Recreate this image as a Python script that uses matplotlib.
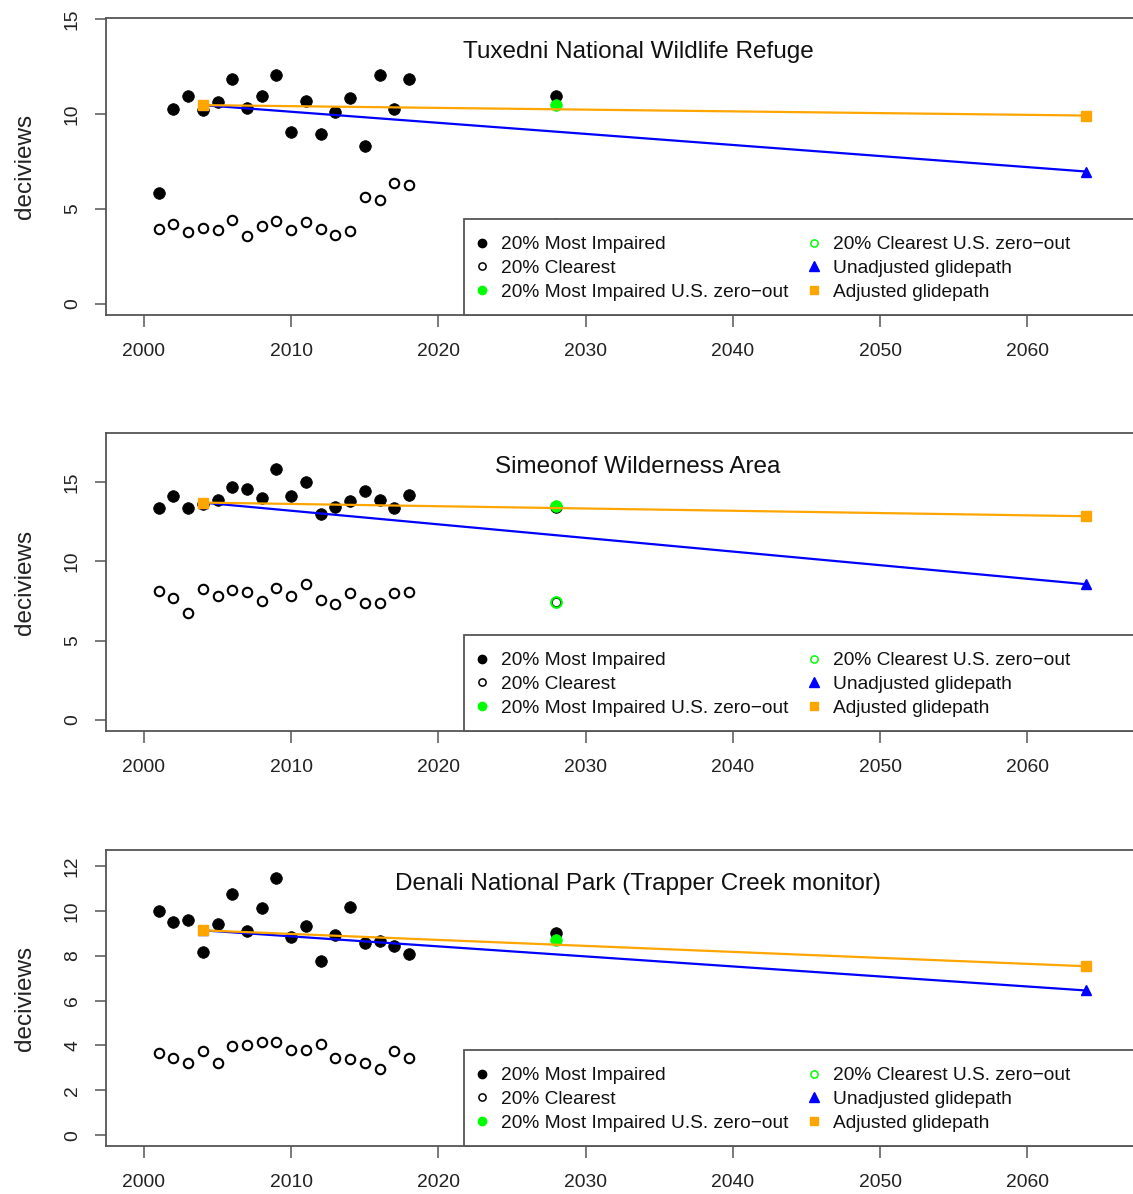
import matplotlib
matplotlib.use("Agg")
import matplotlib.pyplot as plt
from matplotlib.lines import Line2D
from matplotlib.patches import Rectangle

plt.rcParams['font.family'] = ['Liberation Sans', 'DejaVu Sans']

# Data
years = list(range(2001, 2019))
year_2028 = 2028
glide_years = [2004, 2064]

titles = ["Tuxedni National Wildlife Refuge",
          "Simeonof Wilderness Area",
          "Denali National Park (Trapper Creek monitor)"]

tux_impaired = [5.86, 10.28, 10.95, 10.21, 10.63, 11.84, 10.31, 10.95, 12.09,
                9.07, 10.72, 8.95, 10.12, 10.86, 8.35, 12.05, 10.30, 11.84]
tux_clearest = [3.96, 4.23, 3.79, 4.00, 3.89, 4.40, 3.56, 4.09, 4.35,
                3.89, 4.32, 3.95, 3.63, 3.82, 5.63, 5.46, 6.39, 6.25]
tux_2028 = [10.94, 10.51, 4.2, 4.2]      # impaired, impaired zero-out, clearest, clearest zero-out
tux_unadj = [10.48, 6.98]
tux_adj = [10.48, 9.93]

sim_impaired = [13.35, 14.13, 13.37, 13.60, 13.83, 14.65, 14.53, 13.96, 15.83,
                14.13, 15.01, 12.95, 13.41, 13.81, 14.44, 13.83, 13.37, 14.15]
sim_clearest = [8.10, 7.70, 6.74, 8.23, 7.81, 8.21, 8.06, 7.47, 8.29,
                7.81, 8.56, 7.54, 7.30, 7.98, 7.37, 7.35, 7.98, 8.06]
sim_2028 = [13.40, 13.50, 7.40, 7.40]
sim_unadj = [13.69, 8.55]
sim_adj = [13.69, 12.83]

den_impaired = [10.01, 9.49, 9.58, 8.18, 9.42, 10.74, 9.10, 10.13, 11.47,
                8.84, 9.34, 7.77, 8.91, 10.17, 8.58, 8.66, 8.44, 8.09]
den_clearest = [3.67, 3.43, 3.24, 3.74, 3.21, 3.97, 4.04, 4.17, 4.16,
                3.80, 3.79, 4.06, 3.46, 3.40, 3.24, 2.95, 3.74, 3.46]
den_2028 = [8.99, 8.69, 3.4, 3.4]
den_unadj = [9.13, 6.45]
den_adj = [9.13, 7.53]

impaired = [tux_impaired, sim_impaired, den_impaired]
clearest = [tux_clearest, sim_clearest, den_clearest]
future = [tux_2028, sim_2028, den_2028]
unadj = [tux_unadj, sim_unadj, den_unadj]
adj = [tux_adj, sim_adj, den_adj]

yticks = [[0, 5, 10, 15], [0, 5, 10, 15], [0, 2, 4, 6, 8, 10, 12]]
ylims = [(-0.58, 15.07), (-0.69, 18.07), (-0.48, 12.71)]

legend_labels = ["20% Most Impaired", "20% Clearest",
                 "20% Most Impaired U.S. zero\u2212out",
                 "20% Clearest U.S. zero\u2212out",
                 "Unadjusted glidepath", "Adjusted glidepath"]

# layout (pixels of a 1133x1194 figure)
W, H = 1133, 1194
box_left, box_right = 106, 1170
panels_px = [(18, 315), (433, 731), (850, 1146)]

fig = plt.figure(figsize=(W / 100, H / 100), dpi=100)
grey = "#555555"

for i, (top, bot) in enumerate(panels_px):
    ax = fig.add_axes([box_left / W, 1 - bot / H,
                       (box_right - box_left) / W, (bot - top) / H])
    hpx = bot - top

    ax.plot(years, impaired[i], 'o', color='black', ms=8.4, mew=0.5, zorder=3)
    ax.plot(years, clearest[i], 'o', mfc='none', mec='black', ms=6.8, mew=1.5, zorder=3)
    f = future[i]
    ax.plot([year_2028], [f[2]], 'o', mfc='none', mec='black', ms=6.8, mew=1.5, zorder=3)
    ax.plot([year_2028], [f[3]], 'o', mfc='none', mec='#00ff00', ms=7.6, mew=1.5, zorder=3)
    ax.plot([year_2028], [f[0]], 'o', color='black', ms=8.4, mew=0.5, zorder=3)
    ax.plot([year_2028], [f[1]], 'o', color='#00ff00', ms=8.4, mew=0.5, zorder=3)

    ax.plot(glide_years, unadj[i], '-^', color='blue', lw=1.6, ms=7.5, zorder=4)
    ax.plot(glide_years, adj[i], '-s', color='#ffa500', lw=1.6, ms=6.5, zorder=4)

    ax.set_xlim(1997.42, 2069.7)
    ax.set_ylim(*ylims[i])
    ax.set_xticks(range(2000, 2061, 10))
    ax.set_yticks(yticks[i])

    for s in ax.spines.values():
        s.set_color(grey)
        s.set_linewidth(1.3)
    ax.tick_params(axis='x', length=8.6, width=1.1, color=grey, pad=11.5,
                   labelsize=13.9, labelcolor='#222222')
    ax.tick_params(axis='y', length=8, width=1.1, color=grey, pad=10,
                   labelsize=13.9, labelcolor='#222222', labelrotation=90)
    for lbl in ax.get_yticklabels():
        lbl.set_va('center')

    ax.set_ylabel("deciviews", fontsize=17.5, color='#222222')
    ax.yaxis.set_label_coords(-70 / (box_right - box_left), 0.5)

    ax.text(0.5, 1 - 40 / hpx, titles[i], transform=ax.transAxes,
            ha='center', va='baseline', fontsize=17.5, color='#111111')

    # legend box
    lx = (464 - box_left) / (box_right - box_left)
    ax.add_patch(Rectangle((lx, 0), 1 - lx, 96 / hpx, transform=ax.transAxes,
                           facecolor='white', edgecolor=grey, lw=1.3,
                           zorder=5, clip_on=False))
    handles = [
        Line2D([], [], ls='none', marker='o', color='black', ms=6),
        Line2D([], [], ls='none', marker='o', mfc='none', mec='black', ms=5.2, mew=1.1),
        Line2D([], [], ls='none', marker='o', color='#00ff00', ms=6),
        Line2D([], [], ls='none', marker='o', mfc='none', mec='#00ff00', ms=5.2, mew=1.1),
        Line2D([], [], ls='none', marker='^', color='blue', ms=6.5),
        Line2D([], [], ls='none', marker='s', color='#ffa500', ms=5.5),
    ]
    leg = ax.legend(handles, legend_labels, ncol=2, loc='upper left',
                    bbox_to_anchor=((474 - box_left) / (box_right - box_left), 79 / hpx),
                    frameon=False, fontsize=13.8, borderpad=0, borderaxespad=0,
                    handlelength=0.8, handletextpad=0.6, columnspacing=0.95,
                    labelspacing=0.33)
    leg.set_zorder(6)
    for t in leg.get_texts():
        t.set_color('#111111')

fig.savefig("out.png", dpi=100)
